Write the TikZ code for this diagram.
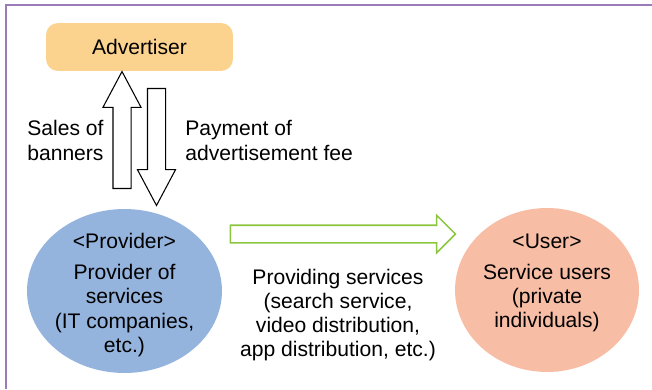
\documentclass[tikz,border=0pt]{standalone}
\usepackage{fontspec}
\setmainfont{Liberation Sans}
\usetikzlibrary{shapes.geometric,shapes.arrows}
\definecolor{advorange}{HTML}{FBD28E}
\definecolor{provblue}{HTML}{94B4DE}
\definecolor{userpink}{HTML}{F8BEA5}
\definecolor{flowgreen}{HTML}{8CC63F}
\definecolor{framepurple}{HTML}{9B7BB8}
\tikzstyle{every node}=[font=\fontsize{12}{13.8}\selectfont]
\tikzstyle{frame}=[framepurple,line width=0.8pt]
\tikzstyle{party}=[ellipse,inner sep=0pt,minimum height=3.28cm]
\tikzstyle{blockarrow}=[single arrow,draw,line width=0.6pt,fill=white,
  inner xsep=0pt,inner ysep=0.17cm,text height=0pt,text depth=0pt,
  single arrow head extend=0.2cm,single arrow tip angle=56]
\tikzstyle{flow}=[blockarrow,draw=flowgreen,line width=0.9pt,
  inner ysep=0.16cm,single arrow tip angle=90]
\tikzstyle{caption}=[align=left,inner sep=0pt]

\begin{document}
\begin{tikzpicture}[x=0.02cm,y=-0.02cm]
    \useasboundingbox (0,0) rectangle (652,389);
    \draw[frame] (6,389) -- (6,5) -- (652,5);
    \node[fill=advorange,rounded corners=0.24cm,minimum width=3.74cm,minimum height=0.96cm]
      (adv) at (139.5,47) {Advertiser};
    \node[party,fill=provblue,minimum width=3.9cm] (prov) at (124.5,291) {};
    \node[party,fill=userpink,minimum width=3.68cm] (user) at (547,290) {};
    \path (prov) ++(0,4) node[align=center]
      {<Provider>\\[4pt]Provider of\\services\\(IT companies,\\etc.)};
    \path (user) ++(0,-7) node[align=center]
      {<User>\\[4pt]Service users\\(private\\individuals)};
    % money and banners between provider and advertiser
    \node[blockarrow,rotate=90,minimum height=2.34cm] (sales) at (122,138.5) {};
    \node[blockarrow,rotate=-90,minimum height=2.34cm] (fee) at (156.5,138.5) {};
    \node[caption,anchor=west] at (27,140.5) {Sales of\\banners};
    \node[caption,anchor=west] at (185,140.5) {Payment of\\advertisement fee};
    % services towards the users
    \node[flow,minimum height=4.5cm] (serv) at (338.5,234) {};
    \node[align=center,inner sep=0pt] at (338,315)
      {Providing services\\(search service,\\video distribution,\\app distribution, etc.)};
  \end{tikzpicture}
\end{document}
